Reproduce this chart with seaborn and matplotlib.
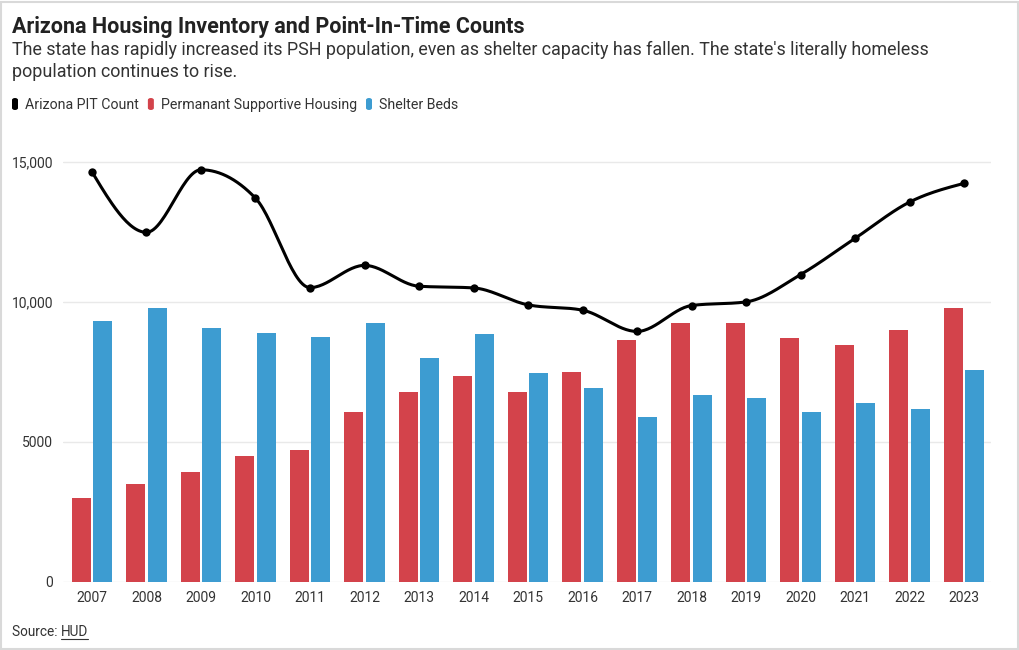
import numpy as np
import pandas as pd
import matplotlib
matplotlib.use("Agg")
import matplotlib.pyplot as plt
from matplotlib.patches import FancyBboxPatch, Rectangle
from matplotlib.lines import Line2D
import seaborn as sns

# data
years = [2007, 2008, 2009, 2010, 2011, 2012, 2013, 2014, 2015,
         2016, 2017, 2018, 2019, 2020, 2021, 2022, 2023]
pit_count = [14640, 12480, 14715, 13700, 10505, 11300, 10555, 10495, 9890,
             9700, 8940, 9865, 9995, 10970, 12265, 13560, 14230]
psh_beds = [3005, 3505, 3910, 4495, 4720, 6075, 6765, 7345, 6775,
            7500, 8620, 9245, 9235, 8700, 8450, 8975, 9795]
shelter_beds = [9320, 9780, 9045, 8890, 8735, 9225, 7975, 8865, 7465,
                6930, 5870, 6680, 6550, 6060, 6395, 6155, 7550]

series_names = ["Arizona PIT Count", "Permanant Supportive Housing", "Shelter Beds"]
colors = {"Arizona PIT Count": "#000000",
          "Permanant Supportive Housing": "#d3434b",
          "Shelter Beds": "#3d9cd1"}

W, H = 1020, 650


def fx(px):
    return px / W


def fy(py):
    return 1 - py / H


def monotone_x(x, y, n=30):
    """Monotone cubic interpolation (same idea as d3.curveMonotoneX)."""
    x = np.asarray(x, float)
    y = np.asarray(y, float)
    h = np.diff(x)
    s = np.diff(y) / h
    m = np.zeros(len(x))
    for i in range(1, len(x) - 1):
        s0, s1 = s[i - 1], s[i]
        p = (s0 * h[i] + s1 * h[i - 1]) / (h[i - 1] + h[i])
        sg0 = -1 if s0 < 0 else 1
        sg1 = -1 if s1 < 0 else 1
        m[i] = (sg0 + sg1) * min(abs(s0), abs(s1), 0.5 * abs(p))
    m[0] = (3 * s[0] - m[1]) / 2
    m[-1] = (3 * s[-1] - m[-2]) / 2
    xs, ys = [], []
    for i in range(len(x) - 1):
        t = np.linspace(0, 1, n, endpoint=(i == len(x) - 2))
        h00 = 2 * t**3 - 3 * t**2 + 1
        h10 = t**3 - 2 * t**2 + t
        h01 = -2 * t**3 + 3 * t**2
        h11 = t**3 - t**2
        xs.append(x[i] + t * h[i])
        ys.append(h00 * y[i] + h10 * h[i] * m[i] + h01 * y[i + 1] + h11 * h[i] * m[i + 1])
    return np.concatenate(xs), np.concatenate(ys)


sns.set_theme(style="white")
plt.rcParams["font.family"] = ["Roboto", "DejaVu Sans"]

bars = pd.DataFrame({
    "year": [str(y) for y in years] * 2,
    "value": psh_beds + shelter_beds,
    "series": [series_names[1]] * len(years) + [series_names[2]] * len(years),
})

fig = plt.figure(figsize=(W / 100, H / 100), dpi=100)
ax = fig.add_axes([fx(63), fy(581.7), fx(991) - fx(63), fy(145) - fy(581.7)])

sns.barplot(data=bars, x="year", y="value", hue="series", palette=colors,
            width=0.8, gap=0.13, linewidth=0, saturation=1, legend=False, ax=ax)

# smooth PIT line through the category positions
xi = np.arange(len(years))
sx, sy = monotone_x(xi, pit_count)
ax.plot(sx, sy, color="black", lw=2.2, solid_capstyle="round", zorder=4)
sns.scatterplot(x=xi, y=pit_count, color="black", s=36, linewidth=0, zorder=5, ax=ax)

ax.set_xlim(-0.532, 16.495)
ax.set_ylim(0, 15600)
ax.set_yticks([0, 5000, 10000, 15000])
ax.set_yticklabels([f"{v:,}" if v >= 10000 else str(v) for v in [0, 5000, 10000, 15000]])
ax.grid(axis="y", color="#e9e9e9", lw=1)
ax.set_axisbelow(True)
for sp in ax.spines.values():
    sp.set_visible(False)
ax.set_xlabel("")
ax.set_ylabel("")
ax.tick_params(axis="both", length=0, labelsize=10, labelcolor="#333333")
ax.tick_params(axis="x", pad=7)
ax.tick_params(axis="y", pad=7)

# header
fig.text(fx(12), fy(33), "Arizona Housing Inventory and Point-In-Time Counts",
         fontsize=15.5, fontweight="bold", color="#222222", va="baseline")
fig.text(fx(12), fy(55), "The state has rapidly increased its PSH population, even as shelter "
         "capacity has fallen. The state's literally homeless", fontsize=12.85,
         color="#333333", va="baseline")
fig.text(fx(12), fy(77), "population continues to rise.", fontsize=12.85,
         color="#333333", va="baseline")

# legend with rounded swatches
fig.canvas.draw()
renderer = fig.canvas.get_renderer()
lx = 12
for name in series_names:
    sw = FancyBboxPatch((fx(lx), fy(110)), fx(6), 12 / H,
                        boxstyle="round,pad=0,rounding_size=0.003",
                        transform=fig.transFigure, facecolor=colors[name],
                        edgecolor="none")
    fig.patches.append(sw)
    t = fig.text(fx(lx + 13), fy(109), name, fontsize=10.15, color="#333333", va="baseline")
    bb = t.get_window_extent(renderer)
    lx = bb.x1 + 9

# source line with underlined link text
s1 = fig.text(fx(12), fy(636), "Source: ", fontsize=9.8, color="#333333", va="baseline")
bb = s1.get_window_extent(renderer)
s2 = fig.text(bb.x1 / W, fy(636), "HUD", fontsize=9.8, color="#333333", va="baseline")
bb2 = s2.get_window_extent(renderer)
fig.lines.append(Line2D([bb2.x0 / W, bb2.x1 / W], [fy(638.5), fy(638.5)],
                        transform=fig.transFigure, color="#333333", lw=0.8))

# thin outer frame
fig.patches.append(Rectangle((0.001, 0.0015), 0.997, 0.996, transform=fig.transFigure,
                             fill=False, edgecolor="#d9d9d9", lw=1.5))

fig.savefig("out.png", dpi=100, facecolor="white")
